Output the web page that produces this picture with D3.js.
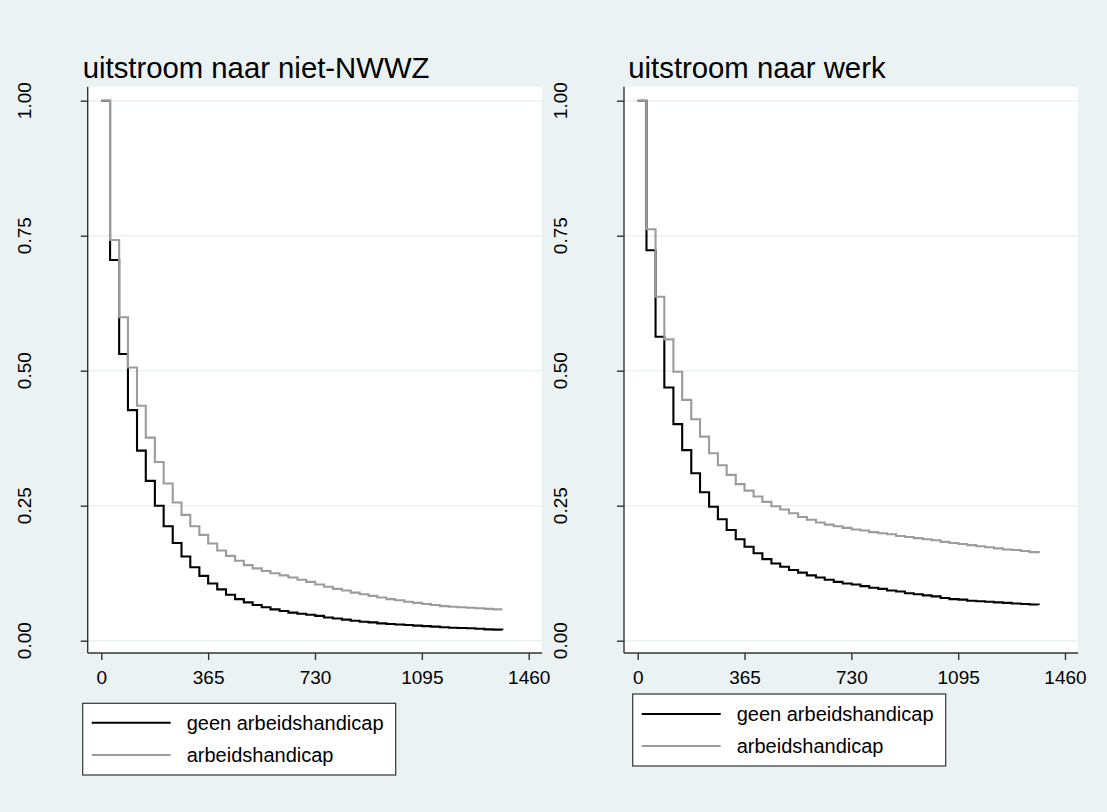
<!DOCTYPE html>
<html><head><meta charset="utf-8">
<script src="https://cdn.jsdelivr.net/npm/d3@7"></script>
<style>
html,body{margin:0;padding:0;background:#EAF2F3;}
svg{display:block;}
text{font-family:"Liberation Sans",Arial,Helvetica,sans-serif;}
</style></head>
<body>
<svg id="chart" width="1107" height="812"></svg>
<script>
// ---- data ----
const stepDays = [0,30,61,91,122,152,183,213,244,274,304,335,365,396,426,457,487,517,548,578,609,639,670,700,731,761,791,822,852,883,913,943,974,1004,1035,1065,1096,1126,1157,1187,1217,1248,1278,1309,1339,1370];
const xTicks = [0,365,730,1095,1460];
const yTicks = [0,0.25,0.5,0.75,1];
const yTickLabels = ["0.00","0.25","0.50","0.75","1.00"];
const panelTitles = ["uitstroom naar niet-NWWZ","uitstroom naar werk"];
const seriesNames = ["geen arbeidshandicap","arbeidshandicap"];
const nwwzGeen = [1.0,0.705,0.531,0.427,0.352,0.296,0.250,0.212,0.181,0.156,0.136,0.120,0.106,0.095,0.085,0.077,0.071,0.066,0.062,0.058,0.055,0.052,0.050,0.048,0.046,0.043,0.041,0.039,0.037,0.035,0.034,0.032,0.031,0.030,0.029,0.028,0.027,0.026,0.025,0.024,0.0235,0.023,0.022,0.021,0.0205,0.020];
const nwwzAH = [1.0,0.742,0.599,0.506,0.435,0.376,0.331,0.291,0.256,0.233,0.212,0.196,0.180,0.167,0.157,0.148,0.140,0.134,0.129,0.125,0.121,0.117,0.113,0.109,0.104,0.100,0.096,0.093,0.089,0.086,0.083,0.080,0.077,0.075,0.072,0.070,0.068,0.066,0.064,0.063,0.062,0.061,0.060,0.059,0.058,0.058];
const werkGeen = [1.0,0.723,0.563,0.469,0.401,0.353,0.310,0.275,0.248,0.225,0.205,0.188,0.174,0.162,0.151,0.143,0.137,0.131,0.126,0.121,0.117,0.113,0.109,0.106,0.104,0.101,0.098,0.096,0.093,0.091,0.088,0.086,0.084,0.082,0.079,0.077,0.076,0.074,0.073,0.072,0.071,0.070,0.069,0.068,0.067,0.066];
const werkAH = [1.0,0.762,0.637,0.558,0.498,0.446,0.410,0.378,0.347,0.325,0.307,0.290,0.278,0.267,0.257,0.249,0.243,0.236,0.229,0.224,0.219,0.215,0.212,0.209,0.206,0.204,0.201,0.199,0.197,0.194,0.192,0.190,0.188,0.186,0.183,0.181,0.179,0.177,0.175,0.173,0.171,0.169,0.168,0.166,0.164,0.162];

// ---- layout ----
const BG = "#EAF2F3";
const colors = ["#000000","#9c9c9c"];
const panels = [
  {title: panelTitles[0], series:[nwwzGeen, nwwzAH], axisX:87.7, right:542, x0:101.3, x1:528.7, titleX:82.7,
   legend:{x:82.7, y:703.3, w:313, h:71.7, row1:722.7, row2:755}},
  {title: panelTitles[1], series:[werkGeen, werkAH], axisX:624, right:1078, x0:637.7, x1:1065, titleX:628.3,
   legend:{x:632.7, y:694, w:313, h:72, row1:714, row2:746}}
];
const plotTop = 86.7, plotBottom = 653;
const y = d3.scaleLinear().domain([0,1]).range([640.7,100.7]);

const svg = d3.select("#chart");
svg.append("rect").attr("width",1107).attr("height",812).attr("fill",BG);

panels.forEach(p => {
  const g = svg.append("g");
  const x = d3.scaleLinear().domain([0,1460]).range([p.x0,p.x1]);
  g.append("rect").attr("x",p.axisX).attr("y",plotTop).attr("width",p.right-p.axisX).attr("height",plotBottom-plotTop).attr("fill","#ffffff");
  g.selectAll(".grid").data(yTicks).join("line")
    .attr("x1",p.axisX).attr("x2",p.right)
    .attr("y1",d=>y(d)).attr("y2",d=>y(d))
    .attr("stroke",BG).attr("stroke-width",1.6);
  const line = d3.line().x((d,i)=>x(stepDays[i])).y(d=>y(d)).curve(d3.curveStepAfter);
  [0,1].forEach(si => {
    g.append("path").datum(p.series[si]).attr("d",line)
      .attr("fill","none").attr("stroke",colors[si]).attr("stroke-width",2.1)
      .attr("stroke-linejoin","miter");
  });
  const yAxis = d3.axisLeft(y).tickValues(yTicks).tickSize(7).tickFormat("");
  const ga = g.append("g").attr("transform",`translate(${p.axisX},0)`).call(yAxis);
  ga.select(".domain").attr("d",`M0,${plotTop}V${plotBottom}`).attr("stroke","#333").attr("stroke-width",1.4);
  ga.selectAll(".tick line").attr("stroke","#333").attr("stroke-width",1.4);
  const xAxis = d3.axisBottom(x).tickValues(xTicks).tickSize(7).tickPadding(11).tickFormat(d3.format("d"));
  const gx = g.append("g").attr("transform",`translate(0,${plotBottom})`).call(xAxis);
  gx.select(".domain").attr("d",`M${p.axisX},0H${p.right}`).attr("stroke","#333").attr("stroke-width",1.4);
  gx.selectAll(".tick line").attr("stroke","#333").attr("stroke-width",1.4);
  gx.selectAll(".tick text").attr("font-size",19).attr("fill","#000")
    .style("font-family",'"Liberation Sans",Arial,sans-serif');
  g.selectAll(".ylab").data(yTicks).join("text")
    .attr("transform",d=>`translate(${p.axisX-57},${y(d)}) rotate(-90)`)
    .attr("text-anchor","middle").attr("font-size",19).attr("fill","#000")
    .text((d,i)=>yTickLabels[i]);
  g.append("text").attr("x",p.titleX).attr("y",78).attr("font-size",29.3).attr("fill","#000").text(p.title);
  const L = p.legend;
  const lg = g.append("g");
  lg.append("rect").attr("x",L.x).attr("y",L.y).attr("width",L.w).attr("height",L.h)
    .attr("fill","#fff").attr("stroke","#333").attr("stroke-width",1.2);
  [L.row1,L.row2].forEach((ry,i)=>{
    lg.append("line").attr("x1",L.x+9).attr("x2",L.x+88).attr("y1",ry).attr("y2",ry)
      .attr("stroke",colors[i]).attr("stroke-width",2.1);
    lg.append("text").attr("x",L.x+104).attr("y",ry+7).attr("font-size",20).attr("fill","#000").text(seriesNames[i]);
  });
});
</script>
</body></html>
